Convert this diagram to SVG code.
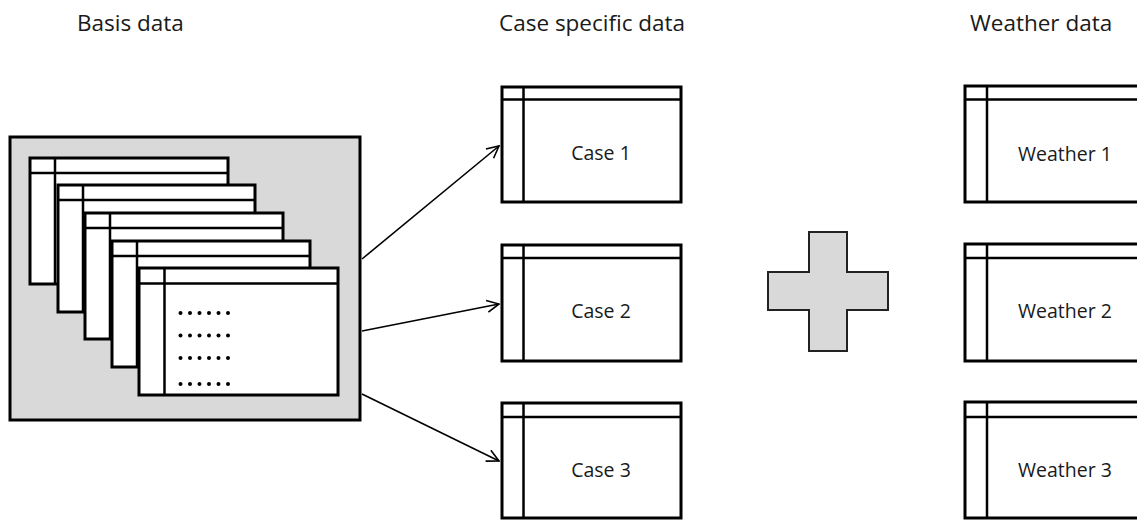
<svg xmlns="http://www.w3.org/2000/svg" width="1137" height="520" viewBox="0 0 1137 520">
<style>
.title{font-family:"Open Sans","Liberation Sans",sans-serif;font-size:22.5px;fill:#1a1a1a}
.lbl{font-family:"Open Sans","Liberation Sans",sans-serif;font-size:19.5px;fill:#1a1a1a;text-anchor:middle}
.card{fill:#fff;stroke:#000;stroke-width:3}
.inner{stroke:#000;stroke-width:2.5;fill:none}
.conn{stroke:#000;stroke-width:1.6;fill:none}
</style>
<defs>
<marker id="open" viewBox="0 0 14 14" refX="13" refY="7" markerWidth="14" markerHeight="14" markerUnits="userSpaceOnUse" orient="auto">
<path d="M1,1 L13,7 L1,13" fill="none" stroke="#000" stroke-width="1.6"/>
</marker>
</defs>
<text class="title" x="77" y="31">Basis data</text>
<text class="title" x="499" y="31">Case specific data</text>
<text class="title" x="970" y="31">Weather data</text>

<g id="basis">
<rect x="10" y="137" width="350" height="283" fill="#d9d9d9" stroke="#000" stroke-width="3"/>
<g id="card1"><rect class="card" x="30" y="158" width="198" height="126"/><path class="inner" d="M30,173 H228 M55,158 V284"/></g>
<g id="card2"><rect class="card" x="58" y="185" width="197" height="127"/><path class="inner" d="M58,200 H255 M83,185 V312"/></g>
<g id="card3"><rect class="card" x="85" y="213" width="198" height="126"/><path class="inner" d="M85,228 H283 M110,213 V339"/></g>
<g id="card4"><rect class="card" x="112" y="241" width="198" height="126"/><path class="inner" d="M112,256 H310 M137,241 V367"/></g>
<g id="card5"><rect class="card" x="139" y="268" width="199" height="127"/><path class="inner" d="M139,283.5 H338 M164.5,268 V395"/>
<g fill="#000">
<circle cx="180.5" cy="313" r="2"/><circle cx="190" cy="313" r="2"/><circle cx="199.5" cy="313" r="2"/><circle cx="209" cy="313" r="2"/><circle cx="218.5" cy="313" r="2"/><circle cx="228" cy="313" r="2"/>
<circle cx="180.5" cy="335.5" r="2"/><circle cx="190" cy="335.5" r="2"/><circle cx="199.5" cy="335.5" r="2"/><circle cx="209" cy="335.5" r="2"/><circle cx="218.5" cy="335.5" r="2"/><circle cx="228" cy="335.5" r="2"/>
<circle cx="180.5" cy="358" r="2"/><circle cx="190" cy="358" r="2"/><circle cx="199.5" cy="358" r="2"/><circle cx="209" cy="358" r="2"/><circle cx="218.5" cy="358" r="2"/><circle cx="228" cy="358" r="2"/>
<circle cx="180.5" cy="384" r="2"/><circle cx="190" cy="384" r="2"/><circle cx="199.5" cy="384" r="2"/><circle cx="209" cy="384" r="2"/><circle cx="218.5" cy="384" r="2"/><circle cx="228" cy="384" r="2"/>
</g></g>
</g>

<g id="case1"><rect class="card" x="502" y="87" width="179" height="115"/><path class="inner" d="M502,99.5 H681 M523.5,87 V202"/><text class="lbl" x="601" y="160">Case 1</text></g>
<g id="case2"><rect class="card" x="502" y="245" width="179" height="116"/><path class="inner" d="M502,258 H681 M523.5,245 V361"/><text class="lbl" x="601" y="318">Case 2</text></g>
<g id="case3"><rect class="card" x="502" y="403" width="179" height="115"/><path class="inner" d="M502,417 H681 M523.5,403 V518"/><text class="lbl" x="601" y="477">Case 3</text></g>

<g id="plus"><polygon points="809,232 847,232 847,272 888,272 888,310 847,310 847,351 809,351 809,310 768,310 768,272 809,272" fill="#d9d9d9" stroke="#222" stroke-width="2"/></g>

<g id="weather1"><rect class="card" x="965" y="86" width="190" height="116"/><path class="inner" d="M965,99.5 H1140 M987,86 V202"/><text class="lbl" x="1065" y="161">Weather 1</text></g>
<g id="weather2"><rect class="card" x="965" y="244" width="190" height="117"/><path class="inner" d="M965,258 H1140 M987,244 V361"/><text class="lbl" x="1065" y="318">Weather 2</text></g>
<g id="weather3"><rect class="card" x="965" y="402" width="190" height="116"/><path class="inner" d="M965,417 H1140 M987,402 V518"/><text class="lbl" x="1065" y="477">Weather 3</text></g>

<g id="connectors">
<line class="conn" x1="362" y1="259" x2="499" y2="146" marker-end="url(#open)"/>
<line class="conn" x1="362" y1="331" x2="499" y2="304" marker-end="url(#open)"/>
<line class="conn" x1="362" y1="394" x2="499" y2="461" marker-end="url(#open)"/>
</g>
</svg>
